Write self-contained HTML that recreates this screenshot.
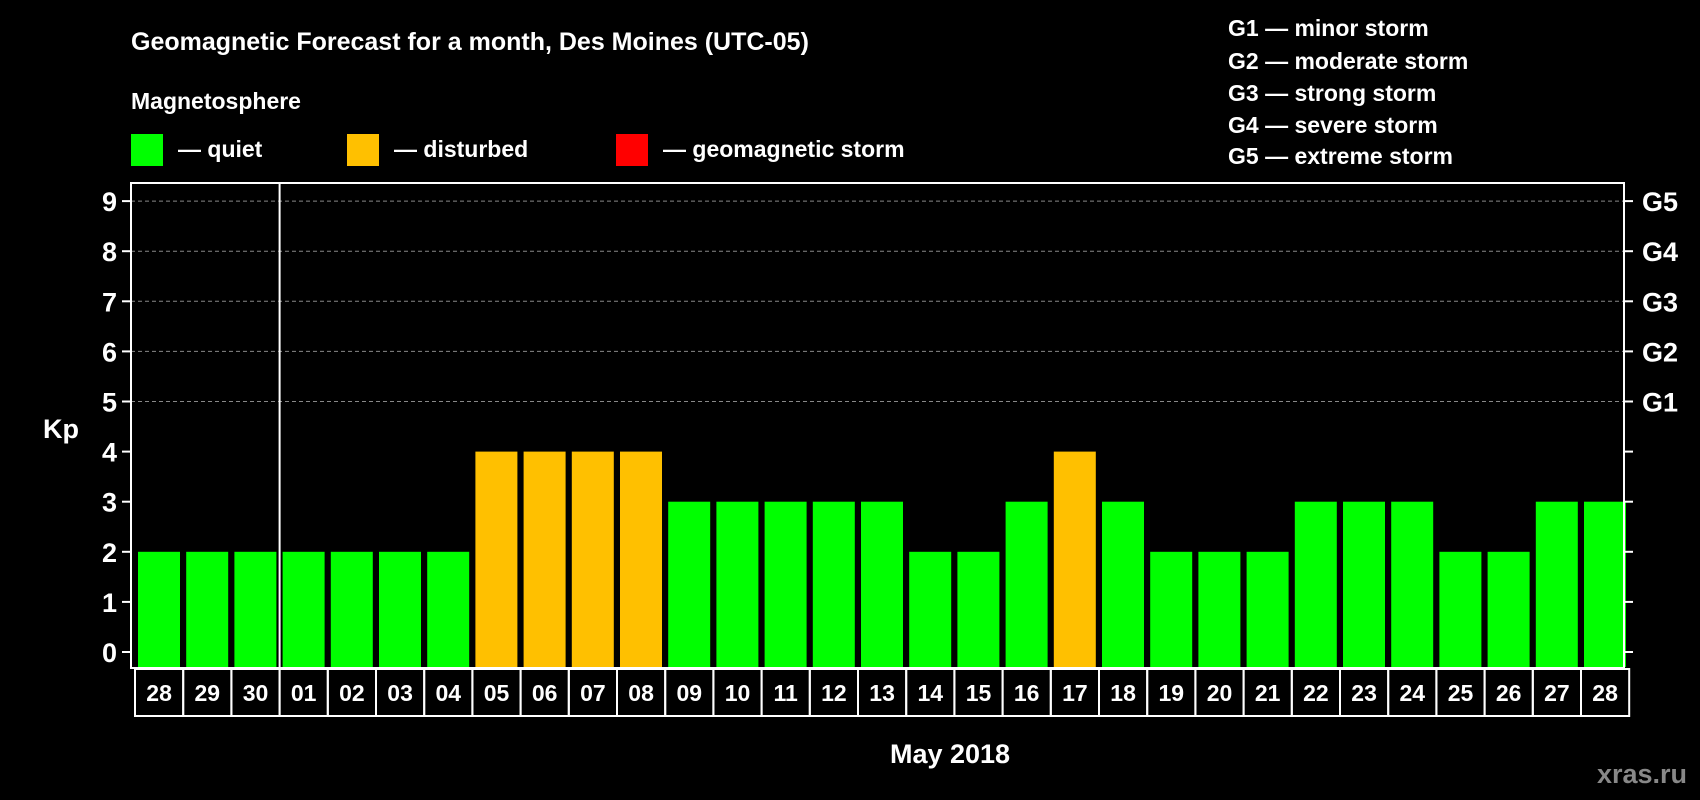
<!DOCTYPE html>
<html><head><meta charset="utf-8"><style>
html,body{margin:0;padding:0;background:#000;width:1700px;height:800px;overflow:hidden}
svg{display:block;font-family:"Liberation Sans",Arial,sans-serif;font-weight:bold}
</style></head><body>
<svg id="chart" width="1700" height="800" xmlns="http://www.w3.org/2000/svg">
<text x="131" y="50" fill="#fff" font-size="25">Geomagnetic Forecast for a month, Des Moines (UTC-05)</text>
<text x="131" y="109" fill="#fff" font-size="23">Magnetosphere</text>
<rect x="131" y="134" width="32" height="32" fill="#00ff00"/>
<text x="178" y="157" fill="#fff" font-size="23">— quiet</text>
<rect x="347" y="134" width="32" height="32" fill="#ffc000"/>
<text x="394" y="157" fill="#fff" font-size="23">— disturbed</text>
<rect x="616" y="134" width="32" height="32" fill="#ff0000"/>
<text x="663" y="157" fill="#fff" font-size="23">— geomagnetic storm</text>
<g font-size="23" fill="#fff">
<text x="1228" y="36">G1 — minor storm</text>
<text x="1228" y="69">G2 — moderate storm</text>
<text x="1228" y="101">G3 — strong storm</text>
<text x="1228" y="133">G4 — severe storm</text>
<text x="1228" y="164">G5 — extreme storm</text>
</g>
<text x="43" y="438" fill="#fff" font-size="27">Kp</text>
<text x="950" y="763" fill="#fff" font-size="27" text-anchor="middle">May 2018</text>
<text x="1642" y="783" fill="#888" font-size="27" text-anchor="middle">xras.ru</text>
<g id="grid"></g><g id="bars"></g><g id="axes"></g>
</svg>
<script>
const days=["28","29","30","01","02","03","04","05","06","07","08","09","10","11","12","13","14","15","16","17","18","19","20","21","22","23","24","25","26","27","28"];
const kp=[2,2,2,2,2,2,2,4,4,4,4,3,3,3,3,3,2,2,3,4,3,2,2,2,3,3,3,2,2,3,3];
const yTicks=[0,1,2,3,4,5,6,7,8,9];
const gLabels=["G1","G2","G3","G4","G5"];
const NS="http://www.w3.org/2000/svg";
const L=131,R=1624,T=183,B=668,Y0=652,UNIT=50.1,STEP=48.2,X0=135;
const y=v=>Y0-v*UNIT;
const x=i=>X0+i*STEP;
function mk(p,tag,a){const e=document.createElementNS(NS,tag);for(const k in a)e.setAttribute(k,a[k]);document.getElementById(p).appendChild(e);return e;}
yTicks.forEach(v=>{
  if(v>=5){const g=mk('grid','line',{x1:L,x2:R,y1:y(v),y2:y(v),stroke:'#888','stroke-width':1,'stroke-dasharray':'4,3'});
  
  }
  const t=mk('axes','line',{x1:L-9,x2:L,y1:y(v),y2:y(v),stroke:'#fff','stroke-width':2});
  
  
  const t2=mk('axes','line',{x1:R,x2:R+9,y1:y(v),y2:y(v),stroke:'#fff','stroke-width':2});
  
  
  const lb=mk('axes','text',{x:L-14,y:y(v)+10,fill:'#fff','font-size':27,'text-anchor':'end'});lb.textContent=v;
  
  
});
gLabels.forEach((g,i)=>{
  const lb=mk('axes','text',{x:R+18,y:y(5+i)+10,fill:'#fff','font-size':27});lb.textContent=g;
  
  
});
kp.forEach((v,i)=>{
  const c=v>=5?'#ff0000':(v>=4?'#ffc000':'#00ff00');
  const b=mk('bars','rect',{x:x(i)+3,y:y(v),width:42,height:B-1-y(v),fill:c});
  
  
  const bx=mk('axes','rect',{x:x(i),y:B+1,width:STEP,height:47,fill:'none',stroke:'#fff','stroke-width':2});
  
  
  const lb=mk('axes','text',{x:x(i)+STEP/2,y:B+33,fill:'#fff','font-size':23,'text-anchor':'middle'});lb.textContent=days[i];
  
  
});
const f=mk('axes','rect',{x:L,y:T,width:R-L,height:B-T,fill:'none',stroke:'#fff','stroke-width':2});


const sep=mk('axes','line',{x1:x(3),x2:x(3),y1:T,y2:B,stroke:'#fff','stroke-width':2});


</script>
</body></html>
